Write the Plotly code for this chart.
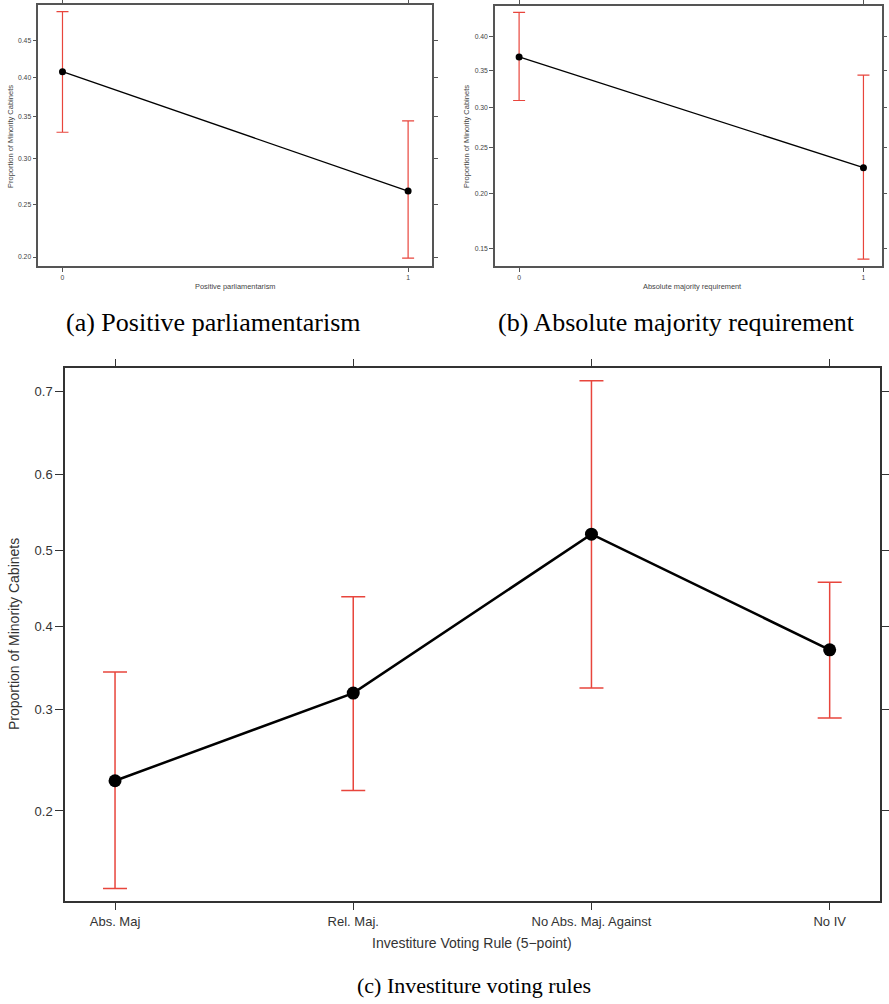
import numpy as np
import plotly.graph_objects as go

# ---------------- data ----------------
# (a) Positive parliamentarism
a_categories = ["0", "1"]
a_fit = [0.408, 0.264]
a_lower = [0.331, 0.199]
a_upper = [0.489, 0.345]
a_ticks = [0.20, 0.25, 0.30, 0.35, 0.40, 0.45]

# (b) Absolute majority requirement
b_categories = ["0", "1"]
b_fit = [0.370, 0.227]
b_lower = [0.309, 0.142]
b_upper = [0.437, 0.344]
b_ticks = [0.15, 0.20, 0.25, 0.30, 0.35, 0.40]

# (c) Investiture voting rules
c_categories = ["Abs. Maj", "Rel. Maj.", "No Abs. Maj. Against", "No IV"]
c_fit = [0.227, 0.319, 0.522, 0.371]
c_lower = [0.142, 0.218, 0.325, 0.291]
c_upper = [0.344, 0.439, 0.712, 0.458]
c_ticks = [0.2, 0.3, 0.4, 0.5, 0.6, 0.7]

W, H = 889, 1004
RED = "#e8453c"


def logit(p):
    p = np.asarray(p, dtype=float)
    return np.log(p / (1 - p))


def px(x):
    return x / W


def py(y):
    return 1 - y / H


panels = [
    dict(cat=a_categories, fit=a_fit, lo=a_lower, up=a_upper, ticks=a_ticks, fmt="{:.2f}",
         xdom=[px(38.3), px(432.3)], ydom=[py(266), py(5.3)],
         xr=[-0.07, 1.07], yr=[0.1923, 0.4977], small=True),
    dict(cat=b_categories, fit=b_fit, lo=b_lower, up=b_upper, ticks=b_ticks, fmt="{:.2f}",
         xdom=[px(495), px(881.7)], ydom=[py(266), py(6)],
         xr=[-0.07, 1.053], yr=[0.1369, 0.4469], small=True),
    dict(cat=c_categories, fit=c_fit, lo=c_lower, up=c_upper, ticks=c_ticks, fmt="{:.1f}",
         xdom=[px(65), px(879.7)], ydom=[py(900.7), py(368.3)],
         xr=[-0.21, 3.21], yr=[0.1342, 0.7255], small=False),
]

fig = go.Figure()
layout = dict(
    width=W, height=H, margin=dict(l=0, r=0, t=0, b=0),
    paper_bgcolor="white", plot_bgcolor="white", showlegend=False,
    font=dict(family="Liberation Sans, Arial, sans-serif", color="#333"),
)

for i, p in enumerate(panels):
    n = i + 1
    xa = "x" if n == 1 else f"x{n}"
    ya = "y" if n == 1 else f"y{n}"
    xs = list(range(len(p["cat"])))
    fit_l = logit(p["fit"])
    up_l = logit(p["up"])
    lo_l = logit(p["lo"])
    small = p["small"]
    lw = 1.3 if small else 2.5
    ms = 7 if small else 13
    cap = 6 if small else 12
    ebw = 1.2 if small else 1.5
    fig.add_trace(go.Scatter(
        x=xs, y=fit_l, mode="markers", marker=dict(size=1, opacity=0),
        error_y=dict(type="data", symmetric=False, array=up_l - fit_l,
                     arrayminus=fit_l - lo_l, color=RED, thickness=ebw, width=cap),
        xaxis=xa, yaxis=ya, hoverinfo="skip"))
    fig.add_trace(go.Scatter(
        x=xs, y=fit_l, mode="lines+markers",
        line=dict(color="black", width=lw),
        marker=dict(color="black", size=ms),
        xaxis=xa, yaxis=ya))
    axcol = "#555" if small else "#333"
    tf = dict(size=6.8 if small else 13, color="#444" if small else "#333")
    tl = 4 if small else 8
    key_x = "xaxis" if n == 1 else f"xaxis{n}"
    key_y = "yaxis" if n == 1 else f"yaxis{n}"
    layout[key_x] = dict(
        domain=p["xdom"], range=p["xr"], anchor=ya,
        tickmode="array", tickvals=xs, ticktext=p["cat"],
        showgrid=False, zeroline=False, showline=True, linecolor=axcol,
        linewidth=1.5, mirror="ticks", ticks="outside", ticklen=tl,
        tickcolor=axcol, tickwidth=1.3, tickfont=tf)
    layout[key_y] = dict(
        domain=p["ydom"], range=list(logit(p["yr"])), anchor=xa,
        tickmode="array", tickvals=list(logit(p["ticks"])),
        ticktext=[p["fmt"].format(t) for t in p["ticks"]],
        showgrid=False, zeroline=False, showline=True, linecolor=axcol,
        linewidth=1.5, mirror="ticks", ticks="outside", ticklen=tl,
        tickcolor=axcol, tickwidth=1.3, tickfont=tf)

ann = []


def add_text(text, x, y, size, family="Liberation Sans, Arial, sans-serif", angle=0, color="#333"):
    ann.append(dict(text=text, x=px(x), y=py(y), xref="paper", yref="paper",
                    xanchor="center", yanchor="middle", showarrow=False,
                    textangle=angle, font=dict(size=size, family=family, color=color)))


# panel axis labels
add_text("Positive parliamentarism", 235, 287, 7.4, color="#444")
add_text("Proportion of Minority Cabinets", 10, 137, 7.5, angle=-90, color="#444")
add_text("Absolute majority requirement", 692, 287, 7.4, color="#444")
add_text("Proportion of Minority Cabinets", 466, 137, 7.5, angle=-90, color="#444")
add_text("Investiture Voting Rule (5\u2212point)", 472, 943, 14)
add_text("Proportion of Minority Cabinets", 14, 634, 14, angle=-90)

# captions
serif = "Liberation Serif, Times New Roman, serif"
add_text("(a) Positive parliamentarism", 213, 323, 26, family=serif, color="black")
add_text("(b) Absolute majority requirement", 676, 323, 26, family=serif, color="black")
add_text("(c) Investiture voting rules", 474, 985, 22, family=serif, color="black")

layout["annotations"] = ann
fig.update_layout(**layout)
fig.write_html("out.html", config={"displayModeBar": False},
               post_script="document.body.style.margin='0px';document.body.style.overflow='hidden';")
